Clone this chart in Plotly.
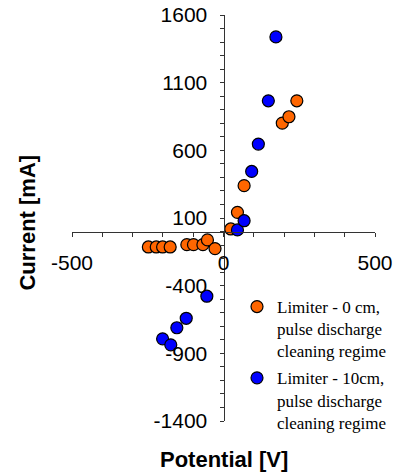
import plotly.graph_objects as go

# Limiter - 0 cm (orange)
v_0cm = [-248, -222, -201, -176, -121, -99, -68, -53, -28, 24, 46, 68, 194, 216, 242]
i_0cm = [-114, -114, -114, -114, -97, -97, -97, -62, -126, 19, 142, 339, 801, 848, 966]

# Limiter - 10 cm (blue)
v_10cm = [-201, -174, -154, -123, -55, 46, 68, 93, 115, 148, 173]
i_10cm = [-793, -837, -711, -641, -478, 12, 80, 444, 646, 966, 1438]

name_0cm = "Limiter - 0 cm,<br>pulse discharge<br>cleaning regime"
name_10cm = "Limiter - 10cm,<br>pulse discharge<br>cleaning regime"

x_range = [-500, 500]
y_range = [-1400, 1600]
x_ticks = [-500, 0, 500]
x_ticktext = ["-500", "0", "500"]
y_ticks = [-1400, -900, -400, 100, 600, 1100, 1600]
y_ticktext = ["-1400", "-900", "-400", "100", "600", "1100", "1600"]

fig = go.Figure()
fig.add_trace(go.Scatter(x=v_0cm, y=i_0cm, mode="markers", name=name_0cm, legendgroup="a",
                         marker=dict(size=12, color="#FF6600", line=dict(color="black", width=1.2))))
fig.add_trace(go.Scatter(x=v_10cm, y=i_10cm, mode="markers", name=name_10cm, legendgroup="b",
                         marker=dict(size=12, color="#0000FF", line=dict(color="black", width=1.2))))

x0_pos = (0 - y_range[0]) / (y_range[1] - y_range[0])
y0_pos = (0 - x_range[0]) / (x_range[1] - x_range[0])
tickfont = dict(family="Liberation Sans, Arial, sans-serif", size=21, color="black")
axcol = "#333333"

common_x = dict(range=x_range, showgrid=False, zeroline=False, anchor="free", position=x0_pos,
                automargin=False)
common_y = dict(range=y_range, showgrid=False, zeroline=False, anchor="free", position=y0_pos,
                automargin=False)

fig.update_layout(
    width=397, height=475,
    margin=dict(l=72, r=22, t=15, b=54, autoexpand=False),
    paper_bgcolor="white", plot_bgcolor="white",
    xaxis=dict(**common_x, showline=True, linecolor=axcol, linewidth=1,
               tickmode="array", tickvals=x_ticks, ticktext=x_ticktext, ticks="outside", ticklen=4,
               tickcolor=axcol, tickfont=tickfont, ticklabelstandoff=8, ticklabeloverflow="allow",
               minor=dict(dtick=100, tick0=0, ticks="outside", ticklen=4, tickcolor=axcol)),
    yaxis=dict(**common_y, showline=True, linecolor=axcol, linewidth=1,
               tickmode="array", tickvals=y_ticks, ticktext=y_ticktext, ticks="outside", ticklen=4,
               tickcolor=axcol, tickfont=tickfont, ticklabelstandoff=8, ticklabeloverflow="allow",
               minor=dict(dtick=100, tick0=0, ticks="outside", ticklen=4, tickcolor=axcol)),
    xaxis2=dict(**common_x, overlaying="x", showline=False, showticklabels=False,
                tickmode="array", tickvals=x_ticks, ticks="inside", ticklen=4, tickcolor=axcol,
                minor=dict(dtick=100, tick0=0, ticks="inside", ticklen=4, tickcolor=axcol)),
    yaxis2=dict(**common_y, overlaying="y", showline=False, showticklabels=False,
                tickmode="array", tickvals=y_ticks, ticks="inside", ticklen=4, tickcolor=axcol,
                minor=dict(dtick=100, tick0=0, ticks="inside", ticklen=4, tickcolor=axcol)),
    showlegend=True,
    legend=dict(x=(237 - 72) / 303, y=(421 - 289) / 406,
                xanchor="left", yanchor="top", valign="top", bgcolor="rgba(0,0,0,0)",
                traceorder="grouped", tracegroupgap=2,
                font=dict(family="Liberation Serif, Times New Roman, serif", size=17, color="black")),
    annotations=[
        dict(text="<b>Current [mA]</b>", textangle=-90, xref="paper", yref="paper",
             x=-0.147, y=0.49, showarrow=False, xanchor="center", yanchor="middle",
             font=dict(family="Liberation Sans, Arial, sans-serif", size=22, color="black")),
        dict(text="<b>Potential [V]</b>", xref="paper", yref="paper",
             x=0.5, y=-0.096, showarrow=False, xanchor="center", yanchor="middle",
             font=dict(family="Liberation Sans, Arial, sans-serif", size=22, color="black")),
    ],
)

# remove the default 8px page margin so the 397x475 figure fills the window
fig.write_html("out.html", config={"displayModeBar": False},
               post_script="document.body.style.margin='0';")
